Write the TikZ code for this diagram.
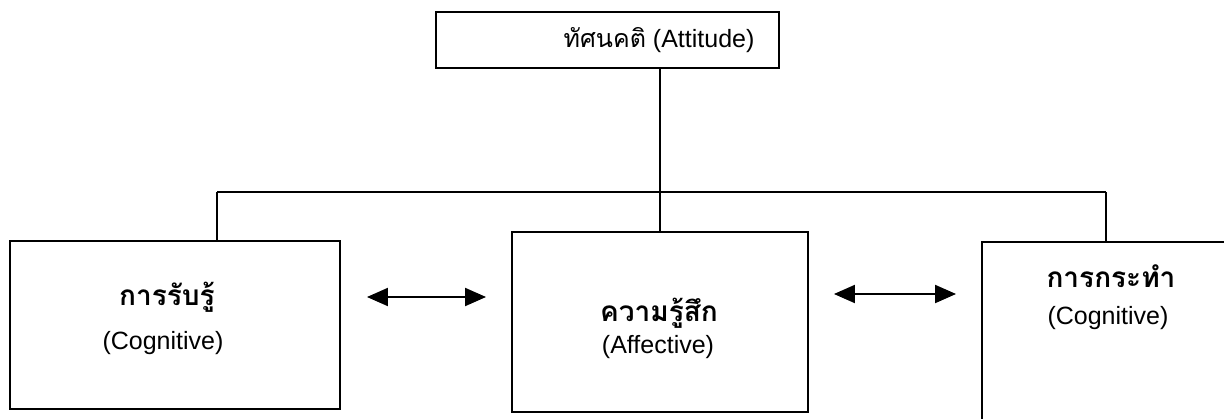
\documentclass[tikz,border=0pt]{standalone}
\usepackage{fontspec}
\setmainfont{Liberation Sans}
\newfontfamily\thaifont[Script=Thai]{Loma}
\usetikzlibrary{arrows.meta}
\begin{document}
\begin{tikzpicture}[x=1pt,y=-1pt,
  box/.style={draw, line width=1.9pt, inner sep=0pt},
  en/.style={font=\fontsize{25}{28}\selectfont, inner sep=0pt},
  th/.style={font=\thaifont\bfseries\fontsize{28}{30}\selectfont, inner sep=0pt},
  ln/.style={line width=1.7pt},
  dbl/.style={line width=2pt, {Triangle[length=21pt,width=18pt]}-{Triangle[length=21pt,width=18pt]}}]
\clip (0,0) rectangle (1224,418);
\fill[white] (0,0) rectangle (1224,418);
% boxes
\node[box, minimum width=343pt, minimum height=56pt] (top) at (607.5,40) {};
\node[box, minimum width=330pt, minimum height=168pt] (L) at (175,325) {};
\node[box, minimum width=296pt, minimum height=180pt] (M) at (660,322) {};
\node[box, minimum width=318pt, minimum height=238pt] (R) at (1141,361) {};
% texts
\node[en] (tt) at (659,40) {{\thaifont\fontsize{25}{28}\selectfont ทัศนคติ} (Attitude)};
\node[th] (lt1) at (167,297) {การรับรู้};
\node[en] (lt2) at (163,343) {(Cognitive)};
\node[th] (mt1) at (659,313) {ความรู้สึก};
\node[en] (mt2) at (658,347) {(Affective)};
\node[th] (rt1) at (1111,276) {การกระทำ};
\node[en] (rt2) at (1108,318) {(Cognitive)};
% tree connectors
\coordinate (hl) at (217,192);
\coordinate (hr) at (1106,192);
\draw[ln] (M.north |- top.south) -- (M.north);
\draw[ln] (hl) -- (hr);
\draw[ln] (hl) -- (hl |- L.north);
\draw[ln] (hr) -- (hr |- R.north);
% double arrows
\coordinate (ay2) at (0,294);
\draw[dbl, shorten <=26pt, shorten >=25pt] (L.east |- lt1) -- (M.west |- lt1);
\draw[dbl, shorten <=25pt, shorten >=25pt] (M.east |- ay2) -- (R.west |- ay2);
\end{tikzpicture}
\end{document}
